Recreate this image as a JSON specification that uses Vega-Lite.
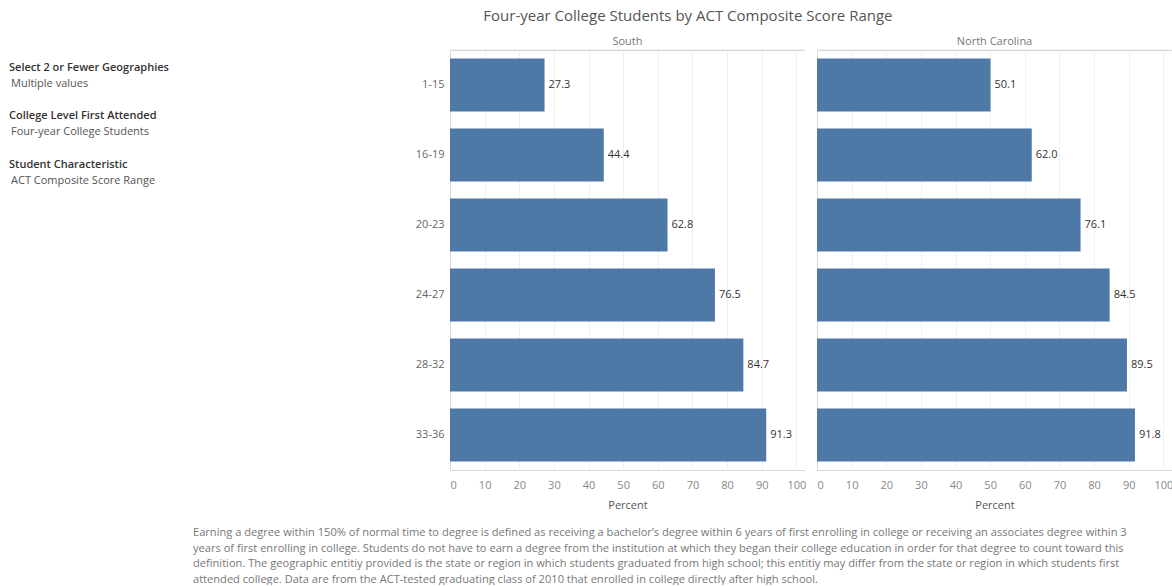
{
  "$schema": "https://vega.github.io/schema/vega-lite/v6.json",
  "padding": {"left": 9, "top": 9, "right": 0, "bottom": 0},
  "background": "white",
  "config": {
    "font": "Open Sans",
    "view": {"stroke": null},
    "concat": {"spacing": 0}
  },
  "resolve": {"scale": {"y": "independent", "x": "independent"}},
  "title": {
    "text": [
      "Earning a degree within 150% of normal time to degree is defined as receiving a bachelor’s degree within 6 years of first enrolling in college or receiving an associates degree within 3",
      "years of first enrolling in college. Students do not have to earn a degree from the institution at which they began their college education in order for that degree to count toward this",
      "definition. The geographic entitiy provided is the state or region in which students graduated from high school; this entitiy may differ from the state or region in which students first",
      "attended college. Data are from the ACT-tested graduating class of 2010 that enrolled in college directly after high school."
    ],
    "orient": "bottom",
    "anchor": "start",
    "frame": "bounds",
    "dx": 184,
    "offset": 17,
    "fontSize": 11.1,
    "fontWeight": "normal",
    "color": "#777",
    "lineHeight": 15.5
  },
  "hconcat": [
    {
      "width": 180,
      "height": 420,
      "data": {"values": [
        {"line": 0, "label": "Select 2 or Fewer Geographies", "kind": "head"},
        {"line": 1, "label": "Multiple values", "kind": "value"},
        {"line": 3, "label": "College Level First Attended", "kind": "head"},
        {"line": 4, "label": "Four-year College Students", "kind": "value"},
        {"line": 6, "label": "Student Characteristic", "kind": "head"},
        {"line": 7, "label": "ACT Composite Score Range", "kind": "value"}
      ]},
      "encoding": {
        "y": {"field": "line", "type": "quantitative", "scale": {"domain": [-1.1, 24.9], "reverse": true, "nice": false, "zero": false}, "axis": null},
        "text": {"field": "label"}
      },
      "layer": [
        {
          "transform": [{"filter": "datum.kind === 'head'"}],
          "mark": {"type": "text", "align": "left", "baseline": "middle", "fontWeight": 600, "fontSize": 11, "color": "#333", "x": 0}
        },
        {
          "transform": [{"filter": "datum.kind === 'value'"}],
          "mark": {"type": "text", "align": "left", "baseline": "middle", "fontSize": 11, "color": "#555", "x": 2}
        }
      ]
    },
    {
      "data": {"values": [
        {"geo": "South", "range": "1-15", "pct": 27.3},
        {"geo": "South", "range": "16-19", "pct": 44.4},
        {"geo": "South", "range": "20-23", "pct": 62.8},
        {"geo": "South", "range": "24-27", "pct": 76.5},
        {"geo": "South", "range": "28-32", "pct": 84.7},
        {"geo": "South", "range": "33-36", "pct": 91.3},
        {"geo": "North Carolina", "range": "1-15", "pct": 50.1},
        {"geo": "North Carolina", "range": "16-19", "pct": 62.0},
        {"geo": "North Carolina", "range": "20-23", "pct": 76.1},
        {"geo": "North Carolina", "range": "24-27", "pct": 84.5},
        {"geo": "North Carolina", "range": "28-32", "pct": 89.5},
        {"geo": "North Carolina", "range": "33-36", "pct": 91.8}
      ]},
      "title": {
        "text": "Four-year College Students by ACT Composite Score Range",
        "fontSize": 15,
        "fontWeight": "normal",
        "color": "#555",
        "anchor": "middle",
        "offset": 12,
        "dx": 7
      },
      "facet": {
        "column": {
          "field": "geo",
          "type": "nominal",
          "sort": ["South", "North Carolina"],
          "header": {"title": null, "labelFontSize": 11, "labelColor": "#777", "labelPadding": 2}
        }
      },
      "spacing": 12,
      "spec": {
        "width": 355,
        "height": 420,
        "encoding": {
          "y": {
            "field": "range",
            "type": "nominal",
            "sort": ["1-15", "16-19", "20-23", "24-27", "28-32", "33-36"],
            "title": null,
            "scale": {"paddingInner": 0.24, "paddingOuter": 0.12},
            "axis": {
              "labelFontSize": 11,
              "labelColor": "#666",
              "ticks": false,
              "domain": false,
              "labelPadding": 6,
              "minExtent": 261,
              "maxExtent": 261
            }
          },
          "x": {
            "field": "pct",
            "type": "quantitative",
            "scale": {"domain": [0, 102.5], "nice": false},
            "axis": {
              "values": [0, 10, 20, 30, 40, 50, 60, 70, 80, 90, 100],
              "grid": true,
              "gridColor": {"condition": {"test": "datum.value === 0", "value": "#d9d9d9"}, "value": "#f0f0f0"},
              "domainColor": "#d9d9d9",
              "ticks": false,
              "labelColor": "#888",
              "labelFontSize": 11,
              "labelPadding": 9,
              "labelFlush": true,
              "title": "Percent",
              "titleFontSize": 11,
              "titleFontWeight": "normal",
              "titleColor": "#555",
              "titlePadding": 9
            }
          }
        },
        "layer": [
          {
            "mark": {"type": "rule", "color": "#d9d9d9", "strokeWidth": 1},
            "encoding": {
              "y": {"datum": "1-15", "bandPosition": -0.15},
              "x": {"datum": 0.15},
              "x2": {"datum": 102.35}
            }
          },
          {"mark": {"type": "bar", "color": "#4e79a7"}},
          {
            "mark": {"type": "text", "align": "left", "baseline": "middle", "dx": 4, "fontSize": 11, "color": "#333"},
            "encoding": {"text": {"field": "pct", "type": "quantitative", "format": ".1f"}}
          }
        ]
      }
    }
  ]
}
